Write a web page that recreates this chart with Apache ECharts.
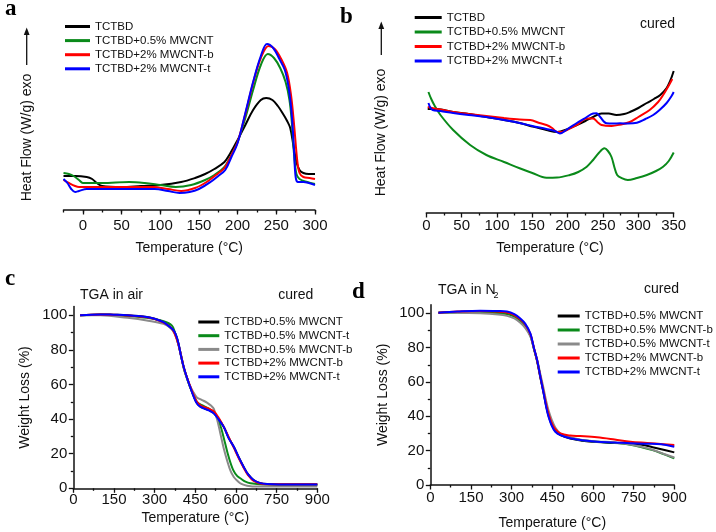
<!DOCTYPE html>
<html><head><meta charset="utf-8">
<script src="https://cdn.jsdelivr.net/npm/echarts@6/dist/echarts.min.js"></script>
<style>html,body{margin:0;padding:0;background:#fff}#c{width:716px;height:532px}</style>
</head><body><div id="c"></div>
<script>
// ---------- Panel a: DSC (uncured), x = Temperature (°C), y = heat flow (arbitrary units) ----------
const aTicks = [0, 50, 100, 150, 200, 250, 300];
const aTCTBD = [[-25,34],[-10,34],[5,33],[12,31],[18,27],[25,24],[50,23],[75,24],[100,25],[127,28],[145,32],[158,36],[170,41],[183,48],[190,56],[200,70],[210,85],[220,100],[230,110],[237,112],[245,110],[252,104],[258,97],[264,89],[268,82],[272,65],[276,48],[280,40],[285,37],[292,36],[300,36]];
const aMW05 = [[-25,37],[-18,36],[-12,34],[-5,30],[0,27],[10,27],[25,27],[60,28],[80,27],[100,25],[120,23],[140,25],[158,30],[170,35],[183,43],[192,55],[200,68],[210,92],[220,120],[230,145],[239,156],[247,152],[255,142],[262,128],[267,110],[270,88],[273,55],[276,36],[280,31],[290,28],[300,26]];
const aMW2b = [[-25,30],[-18,27],[-10,24],[-5,23],[10,23],[50,23],[90,23],[110,21],[127,19],[145,22],[160,28],[172,35],[183,42],[192,55],[200,68],[210,96],[220,127],[230,152],[240,164],[248,161],[257,150],[264,137],[269,115],[273,85],[277,50],[280,37],[285,33],[293,32],[300,31]];
const aMW2t = [[-25,31],[-20,27],[-15,21],[-10,18],[-5,19],[5,21],[25,21],[50,21],[93,21],[110,19],[125,17],[138,18],[150,21],[165,28],[175,34],[184,40],[192,53],[200,67],[210,97],[220,128],[230,154],[238,166],[246,162],[254,151],[261,140],[266,122],[270,95],[273,58],[275,33],[278,28],[285,28],[292,27],[300,25]];

// ---------- Panel b: DSC (cured) ----------
const bTCTBD = [[2,104],[15,104],[38,101],[60,99],[85,96],[110,93],[132,90],[150,86.5],[170,83],[185,81],[200,84],[213,88],[225,92],[236,96],[248,99.5],[258,99.5],[269,98],[280,99],[288,101],[300,105],[312,110],[322,114],[331,118],[340,125],[345,132],[350,142]];
const bMW05 = [[3,121],[7,114],[12,107],[20,98],[38,83],[62,68],[85,58],[110,51],[132,44.7],[150,40],[170,35.3],[185,35.5],[203,38],[215,41],[227,46.3],[236,53],[244,60],[252,64.7],[257,62],[262,56],[266,46],[270,38],[276,35],[285,33],[298,35],[312,38],[325,42],[335,46.3],[343,52],[350,60.5]];
const bMW2b = [[2,106],[15,104],[38,101],[60,99],[85,97],[110,95],[132,93.5],[147,93],[160,90],[170,88],[178,85],[185,81],[192,81],[199,83],[213,88],[227,94.5],[236,94.5],[242,91],[248,88],[262,87],[275,88.5],[288,91],[300,96],[316,103],[328,111],[335,118],[345,130],[348,134]];
const bMW2t = [[3,110],[6,105],[9,103],[20,102],[38,100],[60,98],[85,96],[110,93],[132,90],[150,87],[170,84],[182,82],[189,79.5],[200,84],[213,90],[225,95],[236,99.5],[241,99.7],[246,96],[255,89.7],[265,89.5],[274,89.7],[285,89.5],[298,90.3],[310,94],[321,98],[330,103],[340,110],[347,117],[350,121]];

// ---------- Panel c: TGA in air ----------
const wTicks = [0, 20, 40, 60, 80, 100];
const wMinor = [10, 30, 50, 70, 90];
const cMW05 = [[25,100],[100,100.5],[148,100.3],[200,100],[271,99],[300,98],[333,96],[350,94],[370,91],[380,88],[388,83.5],[398,76],[407,70],[420,63.5],[431,58.5],[445,52.8],[456,49.2],[468,47.3],[481,46.3],[500,45.2],[518,43.5],[535,40.2],[555,35.5],[573,29.2],[592,24],[610,18],[628,12.5],[645,8],[665,4.8],[690,3],[715,2.5],[800,2.2],[900,2.2]];
const cMW05t = [[25,100],[100,100.3],[200,99.5],[271,98.5],[333,96.5],[364,94],[375,90],[388,83],[400,75],[410,68],[431,58.5],[445,53.5],[456,50],[475,48],[500,46],[518,44],[530,41],[545,35],[560,26],[573,18.2],[590,10.5],[605,7],[616,5.8],[635,3.8],[653,2.9],[700,2.2],[900,2]];
const cMW05b = [[25,100],[100,100],[200,98.5],[271,97],[333,95],[360,92.5],[375,89],[388,83],[400,75],[410,68],[431,59],[445,55],[456,52.5],[475,51],[493,49.5],[510,47.5],[518,46],[530,40],[542,32],[555,23],[567,16.3],[580,10],[592,6.5],[604,4.5],[620,2.5],[641,1.5],[680,1],[900,1]];
const cMW2b = [[25,100],[100,100.4],[200,99.8],[271,98.8],[300,97.8],[333,95.8],[360,93],[375,89],[388,83],[400,75],[410,68.5],[431,59],[445,53.5],[456,50],[470,47.8],[481,47],[500,46],[518,44.5],[535,41],[555,35.5],[575,29],[592,23.5],[610,17.5],[628,12],[645,7.5],[665,4.3],[700,2.5],[800,2.3],[900,2.3]];
const cMW2t = [[25,100],[100,100.5],[148,100.3],[200,100],[271,99],[300,98],[333,96],[350,94],[370,91.3],[380,88],[388,83.7],[398,76],[407,70.2],[420,63.5],[431,58.6],[445,52.5],[456,49],[468,47.2],[481,46.2],[500,45],[518,43.3],[535,40],[555,35.5],[573,29],[592,24],[610,18],[628,12.5],[645,8],[665,4.8],[690,3],[715,2.5],[800,2.2],[900,2.2]];

// ---------- Panel d: TGA in N2 ----------
const dMW05 = [[30,100.3],[100,100.8],[184,101],[250,100.5],[283,100],[310,98.5],[332,96],[350,93],[369,87.5],[382,79.5],[394,72],[406,62.5],[418,53.5],[428,45.5],[436,40.5],[448,35],[461,31.5],[480,29],[516,27],[560,25.8],[615,25],[680,24.5],[738,24],[780,23.5],[820,22],[860,20.5],[900,19]];
const dMW05b = [[30,100.3],[100,100.5],[184,100.5],[250,100],[283,99.5],[310,98],[332,95.5],[350,92.5],[369,87],[382,79.5],[394,72.5],[406,63.5],[418,54.5],[428,47],[436,42],[448,36.5],[461,32.5],[480,29.5],[516,27.5],[560,26],[615,25.2],[680,24.6],[738,23.5],[780,22],[820,20.3],[860,18],[900,15.5]];
const dMW05t = [[30,100.3],[100,100.3],[184,100],[250,99.3],[283,98.5],[310,97],[332,94.5],[350,91.5],[369,86.5],[382,79.5],[394,73],[406,64.5],[418,56],[428,48.5],[436,43.5],[448,38],[461,33.5],[480,30],[516,27.8],[560,26.2],[615,25.4],[680,24.8],[738,23.6],[780,22.2],[820,20.5],[860,18.2],[900,16]];
const dMW2b = [[30,100.3],[100,101],[184,101.3],[250,101],[283,100.5],[310,99],[332,96.5],[350,93.5],[369,88],[382,80],[394,72.5],[406,63],[418,54],[428,46.5],[436,41.5],[448,36],[461,32.5],[480,30],[516,28.8],[553,28.5],[615,27.8],[680,26.5],[738,25.2],[800,24.5],[860,23.8],[900,23.3]];
const dMW2t = [[30,100.3],[100,101],[184,101.5],[250,101.3],[283,101],[310,99.5],[332,97],[350,94],[369,88.3],[382,80],[394,72.8],[406,63],[418,53.4],[428,45],[436,39.8],[448,34.5],[461,31],[480,29],[516,27.2],[560,26],[615,25.2],[680,24.8],[738,24.3],[800,24],[836,23.9],[870,23.3],[900,22.3]];

const FONT = '"Liberation Sans", Arial, sans-serif';
const SERIF = '"Liberation Serif", "Times New Roman", serif';
const C = {black:'#000000', green:'#0a8a1a', red:'#ff0000', blue:'#0000ff', gray:'#8a8a8a'};

function ser(name, data, xi, yi, color) {
  return {type:'line', name, data, xAxisIndex:xi, yAxisIndex:yi, smooth:0.35, showSymbol:false,
    symbol:'none', color, lineStyle:{width:2, color}, silent:true, animation:false, z:3};
}
function legend(prefix, names, left, top, lh, gap, iw) {
  return {orient:'vertical', left, top, padding:0, itemWidth:iw, itemHeight:3, itemGap:gap, icon:'rect',
    selectedMode:false, data:names.map(n => prefix + n), formatter: n => n.slice(prefix.length),
    textStyle:{fontSize:11.5, fontFamily:FONT, color:'#111', lineHeight:lh}};
}
const axisLine = {show:true, lineStyle:{color:'#111', width:1.5}};
const tickStyle = {color:'#111', width:1.3};
const lbl = (m) => ({fontSize:15, fontFamily:FONT, color:'#111', margin:m});
const nm = {fontSize:14, fontFamily:FONT, color:'#111'};

const namesAB = ['TCTBD','TCTBD+0.5% MWCNT','TCTBD+2% MWCNT-b','TCTBD+2% MWCNT-t'];
const namesC = ['TCTBD+0.5% MWCNT','TCTBD+0.5% MWCNT-t','TCTBD+0.5% MWCNT-b','TCTBD+2% MWCNT-b','TCTBD+2% MWCNT-t'];
const namesD = ['TCTBD+0.5% MWCNT','TCTBD+0.5% MWCNT-b','TCTBD+0.5% MWCNT-t','TCTBD+2% MWCNT-b','TCTBD+2% MWCNT-t'];

const option = {
  backgroundColor:'#fff', animation:false,
  grid:[
    {left:63.5, top:30, width:251.5, height:180},
    {left:426.3, top:30, width:247.4, height:183},
    {left:73.3, top:306.6, width:244, height:181.7},
    {left:430.3, top:304.7, width:244, height:180.3}
  ],
  xAxis:[
    {gridIndex:0, type:'value', position:'bottom', min:-25, max:300, axisLine, splitLine:{show:false},
     axisTick:{show:true, length:4.5, customValues:aTicks, lineStyle:tickStyle},
     axisLabel:{...lbl(8), customValues:aTicks},
     name:'Temperature (°C)', nameLocation:'middle', nameGap:31, nameTextStyle:nm},
    {gridIndex:0, type:'value', position:'bottom', offset:0, min:-25, max:300, interval:25, axisLine:{show:false}, splitLine:{show:false},
     axisTick:{show:true, length:2.5, lineStyle:tickStyle}, axisLabel:{show:false}},
    {gridIndex:1, type:'value', position:'bottom', min:0, max:350, interval:50, axisLine, splitLine:{show:false},
     axisTick:{show:true, length:4.5, lineStyle:tickStyle},
     minorTick:{show:true, splitNumber:2, length:2.5, lineStyle:tickStyle},
     axisLabel:lbl(5.5), name:'Temperature (°C)', nameLocation:'middle', nameGap:28, nameTextStyle:nm},
    {gridIndex:2, type:'value', position:'bottom', min:0, max:900, interval:150, axisLine, splitLine:{show:false},
     axisTick:{show:true, length:4.5, lineStyle:tickStyle},
     minorTick:{show:true, splitNumber:2, length:2.5, lineStyle:tickStyle},
     axisLabel:lbl(4), name:'Temperature (°C)', nameLocation:'middle', nameGap:23, nameTextStyle:nm},
    {gridIndex:3, type:'value', position:'bottom', min:0, max:900, interval:150, axisLine, splitLine:{show:false},
     axisTick:{show:true, length:4.5, lineStyle:tickStyle},
     minorTick:{show:true, splitNumber:2, length:2.5, lineStyle:tickStyle},
     axisLabel:lbl(5.5), name:'Temperature (°C)', nameLocation:'middle', nameGap:31, nameTextStyle:nm}
  ],
  yAxis:[
    {gridIndex:0, type:'value', min:0, max:180, show:false},
    {gridIndex:1, type:'value', min:0, max:183, show:false},
    {gridIndex:2, type:'value', position:'left', min:0, max:105, axisLine, splitLine:{show:false},
     axisTick:{show:true, length:4.5, customValues:wTicks, lineStyle:tickStyle},
     axisLabel:{...lbl(6), customValues:wTicks},
     name:'Weight Loss (%)', nameLocation:'middle', nameGap:41, nameTextStyle:nm},
    {gridIndex:2, type:'value', position:'left', offset:0, min:0, max:105, axisLine:{show:false}, splitLine:{show:false},
     axisTick:{show:true, length:2.5, customValues:wMinor, lineStyle:tickStyle}, axisLabel:{show:false}},
    {gridIndex:3, type:'value', position:'left', min:0, max:105, axisLine, splitLine:{show:false},
     axisTick:{show:true, length:4.5, customValues:wTicks, lineStyle:tickStyle},
     axisLabel:{...lbl(6), customValues:wTicks},
     name:'Weight Loss (%)', nameLocation:'middle', nameGap:40, nameTextStyle:nm},
    {gridIndex:3, type:'value', position:'left', offset:0, min:0, max:105, axisLine:{show:false}, splitLine:{show:false},
     axisTick:{show:true, length:2.5, customValues:wMinor, lineStyle:tickStyle}, axisLabel:{show:false}}
  ],
  legend:[
    legend('a|', namesAB, 65, 19.5, 14, 0.1, 25),
    legend('b|', namesAB, 414.7, 10.5, 14, 0.5, 27),
    legend('c|', namesC, 198.3, 315.5, 13, 0.7, 21),
    legend('d|', namesD, 557.7, 309.5, 13, 1.0, 22)
  ],
  series:[
    ser('a|TCTBD', aTCTBD, 0, 0, C.black),
    ser('a|TCTBD+0.5% MWCNT', aMW05, 0, 0, C.green),
    ser('a|TCTBD+2% MWCNT-b', aMW2b, 0, 0, C.red),
    ser('a|TCTBD+2% MWCNT-t', aMW2t, 0, 0, C.blue),
    ser('b|TCTBD', bTCTBD, 2, 1, C.black),
    ser('b|TCTBD+0.5% MWCNT', bMW05, 2, 1, C.green),
    ser('b|TCTBD+2% MWCNT-b', bMW2b, 2, 1, C.red),
    ser('b|TCTBD+2% MWCNT-t', bMW2t, 2, 1, C.blue),
    ser('c|TCTBD+0.5% MWCNT', cMW05, 3, 2, C.black),
    ser('c|TCTBD+0.5% MWCNT-t', cMW05t, 3, 2, C.green),
    ser('c|TCTBD+0.5% MWCNT-b', cMW05b, 3, 2, C.gray),
    ser('c|TCTBD+2% MWCNT-b', cMW2b, 3, 2, C.red),
    ser('c|TCTBD+2% MWCNT-t', cMW2t, 3, 2, C.blue),
    ser('d|TCTBD+0.5% MWCNT', dMW05, 4, 4, C.black),
    ser('d|TCTBD+0.5% MWCNT-b', dMW05b, 4, 4, C.green),
    ser('d|TCTBD+0.5% MWCNT-t', dMW05t, 4, 4, C.gray),
    ser('d|TCTBD+2% MWCNT-b', dMW2b, 4, 4, C.red),
    ser('d|TCTBD+2% MWCNT-t', dMW2t, 4, 4, C.blue)
  ],
  graphic:[
    {type:'text', x:5, y:21, style:{text:'a', font:'bold 23px ' + SERIF, fill:'#000', textVerticalAlign:'bottom', verticalAlign:'bottom'}},
    {type:'text', x:340, y:28.5, style:{text:'b', font:'bold 23px ' + SERIF, fill:'#000', textVerticalAlign:'bottom', verticalAlign:'bottom'}},
    {type:'text', x:5, y:290.5, style:{text:'c', font:'bold 23px ' + SERIF, fill:'#000', textVerticalAlign:'bottom', verticalAlign:'bottom'}},
    {type:'text', x:352, y:303.5, style:{text:'d', font:'bold 23px ' + SERIF, fill:'#000', textVerticalAlign:'bottom', verticalAlign:'bottom'}},
    {type:'text', x:26.7, y:137.5, rotation:Math.PI/2, style:{text:'Heat Flow (W/g) exo', font:'14px ' + FONT, fill:'#111', textAlign:'center', align:'center', textVerticalAlign:'middle', verticalAlign:'middle'}},
    {type:'line', shape:{x1:26.7, y1:65, x2:26.7, y2:33}, style:{stroke:'#111', lineWidth:1.3}},
    {type:'polygon', shape:{points:[[26.7,27.5],[23.8,35],[29.6,35]]}, style:{fill:'#111'}},
    {type:'text', x:381.3, y:132.5, rotation:Math.PI/2, style:{text:'Heat Flow (W/g) exo', font:'14px ' + FONT, fill:'#111', textAlign:'center', align:'center', textVerticalAlign:'middle', verticalAlign:'middle'}},
    {type:'line', shape:{x1:381.3, y1:55, x2:381.3, y2:27}, style:{stroke:'#111', lineWidth:1.3}},
    {type:'polygon', shape:{points:[[381.3,21.5],[378.4,29],[384.2,29]]}, style:{fill:'#111'}},
    {type:'text', x:640, y:24, style:{text:'cured', font:'14px ' + FONT, fill:'#111', textVerticalAlign:'middle', verticalAlign:'middle'}},
    {type:'text', x:80, y:295, style:{text:'TGA in air', font:'14px ' + FONT, fill:'#111', textVerticalAlign:'middle', verticalAlign:'middle'}},
    {type:'text', x:278.3, y:295, style:{text:'cured', font:'14px ' + FONT, fill:'#111', textVerticalAlign:'middle', verticalAlign:'middle'}},
    {type:'text', x:438, y:290, style:{text:'TGA in N', font:'14px ' + FONT, fill:'#111', textVerticalAlign:'middle', verticalAlign:'middle'}},
    {type:'text', x:493.5, y:295.5, style:{text:'2', font:'9px ' + FONT, fill:'#111', textVerticalAlign:'middle', verticalAlign:'middle'}},
    {type:'text', x:644, y:289, style:{text:'cured', font:'14px ' + FONT, fill:'#111', textVerticalAlign:'middle', verticalAlign:'middle'}}
  ]
};
const chart = echarts.init(document.getElementById('c'), null, {renderer:'canvas'});
chart.setOption(option);
</script></body></html>
